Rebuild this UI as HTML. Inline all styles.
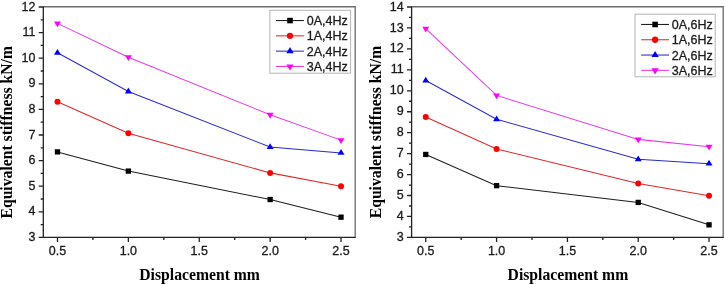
<!DOCTYPE html>
<html><head><meta charset="utf-8"><style>
html,body{margin:0;padding:0;background:#fff;width:725px;height:284px;overflow:hidden;font-family:"Liberation Sans",sans-serif}
svg{display:block;will-change:transform}
.lab{font-family:"Liberation Sans",sans-serif;font-size:12.5px;fill:#1a1a1a;stroke:#1a1a1a;stroke-width:0.3px}
.tt{font-family:"Liberation Serif",serif;font-weight:bold;font-size:15.7px;fill:#000}
</style></head><body>
<svg width="725" height="284" viewBox="0 0 725 284">
<rect width="725" height="284" fill="#fff"/>
<path d="M43.30,6.75H355.20V237.40" stroke="#6a6a6a" stroke-width="1.3" fill="none"/>
<path d="M38.70,237.40H43.30M40.70,224.60H43.30M38.70,211.80H43.30M40.70,199.00H43.30M38.70,186.20H43.30M40.70,173.40H43.30M38.70,160.60H43.30M40.70,147.80H43.30M38.70,135.00H43.30M40.70,122.20H43.30M38.70,109.40H43.30M40.70,96.60H43.30M38.70,83.80H43.30M40.70,71.00H43.30M38.70,58.20H43.30M40.70,45.40H43.30M38.70,32.60H43.30M40.70,19.80H43.30M38.70,7.00H43.30M57.48,237.40V242.00M92.92,237.40V240.00M128.36,237.40V242.00M163.81,237.40V240.00M199.25,237.40V242.00M234.69,237.40V240.00M270.14,237.40V242.00M305.58,237.40V240.00M341.02,237.40V242.00" stroke="#222" stroke-width="1.3" fill="none"/>
<path d="M43.30,6.40V237.40H355.80" stroke="#222" stroke-width="1.3" fill="none"/>
<text class="lab" transform="translate(35.40,241.00) scale(1,1.04)" text-anchor="end">3</text>
<text class="lab" transform="translate(35.40,215.40) scale(1,1.04)" text-anchor="end">4</text>
<text class="lab" transform="translate(35.40,189.80) scale(1,1.04)" text-anchor="end">5</text>
<text class="lab" transform="translate(35.40,164.20) scale(1,1.04)" text-anchor="end">6</text>
<text class="lab" transform="translate(35.40,138.60) scale(1,1.04)" text-anchor="end">7</text>
<text class="lab" transform="translate(35.40,113.00) scale(1,1.04)" text-anchor="end">8</text>
<text class="lab" transform="translate(35.40,87.40) scale(1,1.04)" text-anchor="end">9</text>
<text class="lab" transform="translate(35.40,61.80) scale(1,1.04)" text-anchor="end">10</text>
<text class="lab" transform="translate(35.40,36.20) scale(1,1.04)" text-anchor="end">11</text>
<text class="lab" transform="translate(35.40,10.60) scale(1,1.04)" text-anchor="end">12</text>
<text class="lab" transform="translate(57.48,255.20) scale(1,1.04)" text-anchor="middle">0.5</text>
<text class="lab" transform="translate(128.36,255.20) scale(1,1.04)" text-anchor="middle">1.0</text>
<text class="lab" transform="translate(199.25,255.20) scale(1,1.04)" text-anchor="middle">1.5</text>
<text class="lab" transform="translate(270.14,255.20) scale(1,1.04)" text-anchor="middle">2.0</text>
<text class="lab" transform="translate(341.02,255.20) scale(1,1.04)" text-anchor="middle">2.5</text>
<polyline points="57.48,151.90 128.36,171.10 270.14,199.51 341.02,217.18" stroke="#1e1e1e" stroke-width="1.05" fill="none"/>
<rect x="54.83" y="149.25" width="5.30" height="5.30" fill="#000000"/>
<rect x="125.71" y="168.45" width="5.30" height="5.30" fill="#000000"/>
<rect x="267.49" y="196.86" width="5.30" height="5.30" fill="#000000"/>
<rect x="338.37" y="214.53" width="5.30" height="5.30" fill="#000000"/>
<polyline points="57.48,101.72 128.36,133.21 270.14,172.89 341.02,186.20" stroke="#e02828" stroke-width="1.05" fill="none"/>
<circle cx="57.48" cy="101.72" r="3.00" fill="#ff0000"/>
<circle cx="128.36" cy="133.21" r="3.00" fill="#ff0000"/>
<circle cx="270.14" cy="172.89" r="3.00" fill="#ff0000"/>
<circle cx="341.02" cy="186.20" r="3.00" fill="#ff0000"/>
<polyline points="57.48,52.82 128.36,91.48 270.14,147.03 341.02,152.92" stroke="#2a2ad0" stroke-width="1.05" fill="none"/>
<path d="M57.48,48.96L60.98,54.76L53.98,54.76Z" fill="#0000ff"/>
<path d="M128.36,87.61L131.86,93.41L124.86,93.41Z" fill="#0000ff"/>
<path d="M270.14,143.17L273.64,148.97L266.64,148.97Z" fill="#0000ff"/>
<path d="M341.02,149.05L344.52,154.85L337.52,154.85Z" fill="#0000ff"/>
<polyline points="57.48,23.38 128.36,57.18 270.14,114.78 341.02,140.12" stroke="#e83ae8" stroke-width="1.05" fill="none"/>
<path d="M53.98,21.45L60.98,21.45L57.48,27.25Z" fill="#ff00ff"/>
<path d="M124.86,55.24L131.86,55.24L128.36,61.04Z" fill="#ff00ff"/>
<path d="M266.64,112.84L273.64,112.84L270.14,118.64Z" fill="#ff00ff"/>
<path d="M337.52,138.19L344.52,138.19L341.02,143.99Z" fill="#ff00ff"/>
<rect x="269.90" y="10.30" width="80.70" height="62.90" fill="#fff" stroke="#b4b4b4" stroke-width="1"/>
<line x1="276.00" y1="20.55" x2="303.90" y2="20.55" stroke="#1e1e1e" stroke-width="1.05"/>
<rect x="287.22" y="17.77" width="5.57" height="5.57" fill="#000000"/>
<line x1="276.00" y1="35.85" x2="303.90" y2="35.85" stroke="#e02828" stroke-width="1.05"/>
<circle cx="290.00" cy="35.85" r="3.15" fill="#ff0000"/>
<line x1="276.00" y1="51.15" x2="303.90" y2="51.15" stroke="#2a2ad0" stroke-width="1.05"/>
<path d="M290.00,47.09L293.68,53.18L286.32,53.18Z" fill="#0000ff"/>
<line x1="276.00" y1="66.45" x2="303.90" y2="66.45" stroke="#e83ae8" stroke-width="1.05"/>
<path d="M286.32,64.42L293.68,64.42L290.00,70.51Z" fill="#ff00ff"/>
<text class="lab" x="306.70" y="25.00">0A,4Hz</text>
<text class="lab" x="306.70" y="40.30">1A,4Hz</text>
<text class="lab" x="306.70" y="55.60">2A,4Hz</text>
<text class="lab" x="306.70" y="70.90">3A,4Hz</text>
<text class="tt" transform="translate(12.40,132.25) rotate(-90)" text-anchor="middle">Equivalent stiffness kN/m</text>
<text class="tt" x="199.60" y="280.00" text-anchor="middle">Displacement mm</text>
<path d="M411.60,6.75H723.20V237.40" stroke="#6a6a6a" stroke-width="1.3" fill="none"/>
<path d="M407.00,237.40H411.60M409.00,226.93H411.60M407.00,216.45H411.60M409.00,205.98H411.60M407.00,195.51H411.60M409.00,185.04H411.60M407.00,174.56H411.60M409.00,164.09H411.60M407.00,153.62H411.60M409.00,143.15H411.60M407.00,132.67H411.60M409.00,122.20H411.60M407.00,111.73H411.60M409.00,101.25H411.60M407.00,90.78H411.60M409.00,80.31H411.60M407.00,69.84H411.60M409.00,59.36H411.60M407.00,48.89H411.60M409.00,38.42H411.60M407.00,27.95H411.60M409.00,17.47H411.60M407.00,7.00H411.60M425.76,237.40V242.00M461.17,237.40V240.00M496.58,237.40V242.00M531.99,237.40V240.00M567.40,237.40V242.00M602.81,237.40V240.00M638.22,237.40V242.00M673.63,237.40V240.00M709.04,237.40V242.00" stroke="#222" stroke-width="1.3" fill="none"/>
<path d="M411.60,6.40V237.40H723.80" stroke="#222" stroke-width="1.3" fill="none"/>
<text class="lab" transform="translate(403.70,241.00) scale(1,1.04)" text-anchor="end">3</text>
<text class="lab" transform="translate(403.70,220.05) scale(1,1.04)" text-anchor="end">4</text>
<text class="lab" transform="translate(403.70,199.11) scale(1,1.04)" text-anchor="end">5</text>
<text class="lab" transform="translate(403.70,178.16) scale(1,1.04)" text-anchor="end">6</text>
<text class="lab" transform="translate(403.70,157.22) scale(1,1.04)" text-anchor="end">7</text>
<text class="lab" transform="translate(403.70,136.27) scale(1,1.04)" text-anchor="end">8</text>
<text class="lab" transform="translate(403.70,115.33) scale(1,1.04)" text-anchor="end">9</text>
<text class="lab" transform="translate(403.70,94.38) scale(1,1.04)" text-anchor="end">10</text>
<text class="lab" transform="translate(403.70,73.44) scale(1,1.04)" text-anchor="end">11</text>
<text class="lab" transform="translate(403.70,52.49) scale(1,1.04)" text-anchor="end">12</text>
<text class="lab" transform="translate(403.70,31.55) scale(1,1.04)" text-anchor="end">13</text>
<text class="lab" transform="translate(403.70,10.60) scale(1,1.04)" text-anchor="end">14</text>
<text class="lab" transform="translate(425.76,255.20) scale(1,1.04)" text-anchor="middle">0.5</text>
<text class="lab" transform="translate(496.58,255.20) scale(1,1.04)" text-anchor="middle">1.0</text>
<text class="lab" transform="translate(567.40,255.20) scale(1,1.04)" text-anchor="middle">1.5</text>
<text class="lab" transform="translate(638.22,255.20) scale(1,1.04)" text-anchor="middle">2.0</text>
<text class="lab" transform="translate(709.04,255.20) scale(1,1.04)" text-anchor="middle">2.5</text>
<polyline points="425.76,154.46 496.58,185.66 638.22,202.42 709.04,224.83" stroke="#1e1e1e" stroke-width="1.05" fill="none"/>
<rect x="423.11" y="151.81" width="5.30" height="5.30" fill="#000000"/>
<rect x="493.93" y="183.01" width="5.30" height="5.30" fill="#000000"/>
<rect x="635.57" y="199.77" width="5.30" height="5.30" fill="#000000"/>
<rect x="706.39" y="222.18" width="5.30" height="5.30" fill="#000000"/>
<polyline points="425.76,116.96 496.58,149.01 638.22,183.57 709.04,195.72" stroke="#e02828" stroke-width="1.05" fill="none"/>
<circle cx="425.76" cy="116.96" r="3.00" fill="#ff0000"/>
<circle cx="496.58" cy="149.01" r="3.00" fill="#ff0000"/>
<circle cx="638.22" cy="183.57" r="3.00" fill="#ff0000"/>
<circle cx="709.04" cy="195.72" r="3.00" fill="#ff0000"/>
<polyline points="425.76,80.52 496.58,119.27 638.22,159.27 709.04,163.67" stroke="#2a2ad0" stroke-width="1.05" fill="none"/>
<path d="M425.76,76.65L429.26,82.45L422.26,82.45Z" fill="#0000ff"/>
<path d="M496.58,115.40L500.08,121.20L493.08,121.20Z" fill="#0000ff"/>
<path d="M638.22,155.41L641.72,161.21L634.72,161.21Z" fill="#0000ff"/>
<path d="M709.04,159.81L712.54,165.61L705.54,165.61Z" fill="#0000ff"/>
<polyline points="425.76,28.57 496.58,95.39 638.22,139.38 709.04,146.71" stroke="#e83ae8" stroke-width="1.05" fill="none"/>
<path d="M422.26,26.64L429.26,26.64L425.76,32.44Z" fill="#ff00ff"/>
<path d="M493.08,93.46L500.08,93.46L496.58,99.26Z" fill="#ff00ff"/>
<path d="M634.72,137.44L641.72,137.44L638.22,143.24Z" fill="#ff00ff"/>
<path d="M705.54,144.77L712.54,144.77L709.04,150.57Z" fill="#ff00ff"/>
<rect x="635.00" y="14.20" width="80.20" height="62.60" fill="#fff" stroke="#b4b4b4" stroke-width="1"/>
<line x1="641.10" y1="24.45" x2="669.00" y2="24.45" stroke="#1e1e1e" stroke-width="1.05"/>
<rect x="652.32" y="21.67" width="5.57" height="5.57" fill="#000000"/>
<line x1="641.10" y1="39.75" x2="669.00" y2="39.75" stroke="#e02828" stroke-width="1.05"/>
<circle cx="655.10" cy="39.75" r="3.15" fill="#ff0000"/>
<line x1="641.10" y1="55.05" x2="669.00" y2="55.05" stroke="#2a2ad0" stroke-width="1.05"/>
<path d="M655.10,50.99L658.77,57.08L651.43,57.08Z" fill="#0000ff"/>
<line x1="641.10" y1="70.35" x2="669.00" y2="70.35" stroke="#e83ae8" stroke-width="1.05"/>
<path d="M651.43,68.32L658.77,68.32L655.10,74.41Z" fill="#ff00ff"/>
<text class="lab" x="671.80" y="28.90">0A,6Hz</text>
<text class="lab" x="671.80" y="44.20">1A,6Hz</text>
<text class="lab" x="671.80" y="59.50">2A,6Hz</text>
<text class="lab" x="671.80" y="74.80">3A,6Hz</text>
<text class="tt" transform="translate(380.80,132.00) rotate(-90)" text-anchor="middle">Equivalent stiffness kN/m</text>
<text class="tt" x="567.90" y="280.00" text-anchor="middle">Displacement mm</text>
</svg>
</body></html>
